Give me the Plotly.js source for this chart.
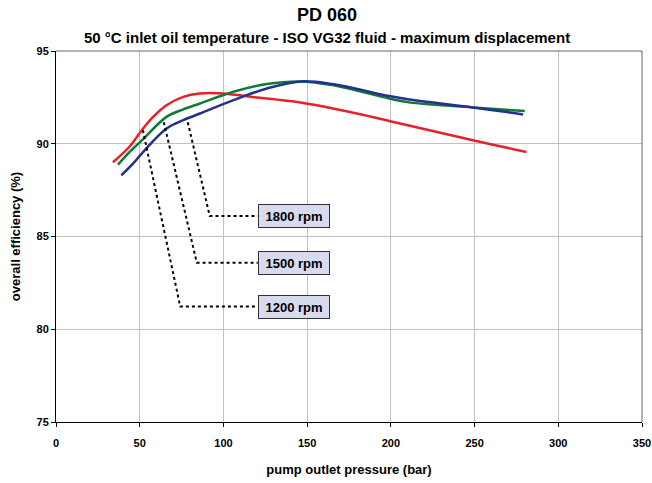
<!DOCTYPE html>
<html><head><meta charset="utf-8">
<script src="https://cdn.plot.ly/plotly-3.0.1.min.js"></script>
<style>body{margin:0;background:#fff}#c{width:652px;height:483px}</style>
</head><body><div id="c"></div>
<script>
// pressure (bar) and efficiency (%) per speed
const p1200 = [34, 44, 52, 58, 66, 76, 86, 100, 116, 146, 175, 199, 249, 281];
const e1200 = [89.0, 89.85, 90.82, 91.45, 92.08, 92.53, 92.71, 92.71, 92.53, 92.22, 91.72, 91.23, 90.19, 89.56];
const p1500 = [37, 44, 52, 66, 76, 86, 106, 126, 146, 165, 199, 211, 249, 280];
const e1500 = [88.87, 89.56, 90.25, 91.45, 91.85, 92.17, 92.8, 93.22, 93.36, 93.16, 92.44, 92.23, 91.96, 91.76];
const p1800 = [39, 46, 52, 66, 76, 86, 106, 126, 146, 165, 199, 211, 249, 279];
const e1800 = [88.3, 88.93, 89.55, 90.82, 91.27, 91.63, 92.35, 92.98, 93.36, 93.22, 92.57, 92.39, 91.96, 91.58];
const speedLabels = ["1200 rpm", "1500 rpm", "1800 rpm"];
// leader lines: start on curve, corner, label anchor
const leadStartX = [51.9, 64.4, 78.7];
const leadStartY = [90.73, 91.16, 91.16];
const leadCornerX = [74.2, 84.1, 91.8];
const labelY = [81.22, 83.59, 86.11];
const labelX = 142;
const labelLeftX = 120.5;

const font = "Liberation Sans, Arial, sans-serif";
const traces = [
  {x: p1200, y: e1200, mode: "lines", line: {color: "#e8202a", width: 2.5, shape: "spline", smoothing: 1}, name: speedLabels[0]},
  {x: p1500, y: e1500, mode: "lines", line: {color: "#0f7a34", width: 2.5, shape: "spline", smoothing: 1}, name: speedLabels[1]},
  {x: p1800, y: e1800, mode: "lines", line: {color: "#22318f", width: 2.5, shape: "spline", smoothing: 1}, name: speedLabels[2]}
];
const shapes = [];
const labelAnn = [];
for (let i = 0; i < 3; i++) {
  shapes.push({type: "path", xref: "x", yref: "y",
    path: `M ${leadStartX[i]},${leadStartY[i]} L ${leadCornerX[i]},${labelY[i]} L ${labelLeftX},${labelY[i]}`,
    line: {color: "#000", width: 2, dash: "dot"}});
  labelAnn.push({x: labelX, y: labelY[i], xref: "x", yref: "y", showarrow: false,
    text: "<b>" + speedLabels[i] + "</b>", font: {family: font, size: 13, color: "#000"},
    bgcolor: "#d8dbef", bordercolor: "#333", borderwidth: 1, borderpad: 3, width: 64, height: 16});
}
const layout = {
  width: 652, height: 483,
  margin: {l: 56, r: 10, t: 51, b: 61},
  paper_bgcolor: "#fff", plot_bgcolor: "#fff",
  showlegend: false,
  font: {family: font, color: "#000"},
  xaxis: {range: [0, 350], dtick: 50, tick0: 0, showgrid: true, gridcolor: "#c0c0c0", gridwidth: 1,
    zeroline: false, showline: true, linecolor: "#000", linewidth: 1, mirror: false,
    ticks: "outside", ticklen: 4, tickcolor: "#000", ticklabelstandoff: 7,
    tickfont: {family: font, size: 11, weight: "bold"},
    title: {text: "<b>pump outlet pressure (bar)</b>", font: {family: font, size: 13}, standoff: 16}},
  yaxis: {range: [75, 95], dtick: 5, tick0: 75, showgrid: true, gridcolor: "#c0c0c0", gridwidth: 1,
    zeroline: false, showline: true, linecolor: "#000", linewidth: 1,
    ticks: "outside", ticklen: 4, tickcolor: "#000", tickfont: {family: font, size: 11, weight: "bold"},
    title: {text: "<b>overall efficiency (%)</b>", font: {family: font, size: 13}, standoff: 12}},
  shapes: shapes.concat([
    {type: "line", xref: "paper", yref: "paper", x0: 0, x1: 1, y0: 1, y1: 1, line: {color: "#666", width: 1}},
    {type: "line", xref: "paper", yref: "paper", x0: 1, x1: 1, y0: 0, y1: 1, line: {color: "#666", width: 1}}
  ]),
  annotations: [
    {xref: "paper", yref: "paper", x: 0.4625, y: 1, yshift: 24, xanchor: "center", yanchor: "bottom", showarrow: false,
     text: "<b>PD 060</b>", font: {family: font, size: 18, color: "#000"}},
    {xref: "paper", yref: "paper", x: 0.4625, y: 1, yshift: 3, xanchor: "center", yanchor: "bottom", showarrow: false,
     text: "<b>50 °C inlet oil temperature - ISO VG32 fluid - maximum displacement</b>", font: {family: font, size: 15, color: "#000"}}
  ].concat(labelAnn)
};
Plotly.newPlot("c", traces, layout, {staticPlot: true});
</script></body></html>
